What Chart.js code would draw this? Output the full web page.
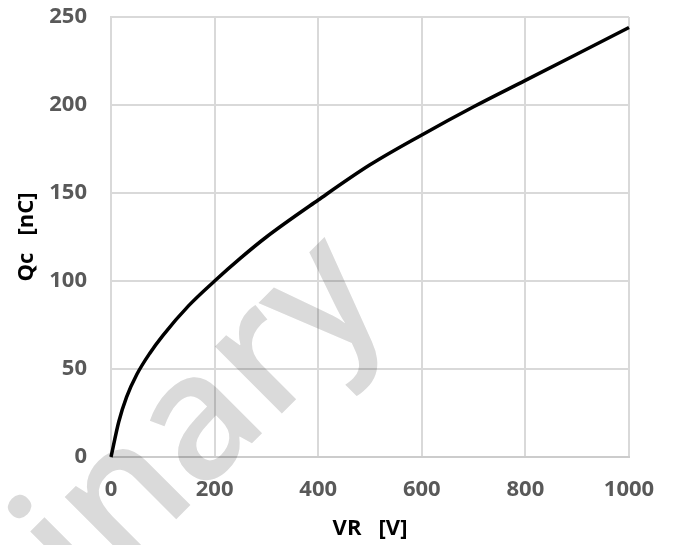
<!DOCTYPE html>
<html>
<head>
<meta charset="utf-8">
<script src="https://cdn.jsdelivr.net/npm/chart.js@4/dist/chart.umd.min.js"></script>
<style>
  html, body { margin: 0; padding: 0; background: #ffffff; }
  #wrap { width: 673px; height: 545px; }
</style>
</head>
<body>
<div id="wrap"><canvas id="chart" width="673" height="545"></canvas></div>
<script>
// Reverse voltage VR [V] and capacitive charge Qc [nC]
const vrVolts = [0, 15, 30, 50, 75, 100, 150, 200, 250, 300, 400, 500, 600, 700, 800, 900, 1000];
const qcNanoC = [0, 20, 34, 47, 59, 69, 86, 100, 113, 125, 146, 166, 183, 199, 214, 229, 244];

// Axis ranges and tick steps
const xRange = [0, 1000];
const xStep = 200;
const yRange = [0, 250];
const yStep = 50;

const xTitle = 'VR   [V]';
const yTitle = 'Qc   [nC]';
const watermarkText = 'Preliminary';

const tickFont = { family: '"Open Sans", "Liberation Sans", sans-serif', size: 22, weight: 'bold' };
const titleFont = { family: '"Open Sans", "Liberation Sans", sans-serif', size: 22, weight: 'bold' };

// Large rotated watermark text, multiplied over the chart
const watermark = {
  id: 'watermark',
  afterDraw(chart) {
    const ctx = chart.ctx;
    const size = 175;
    ctx.save();
    ctx.font = '600 ' + size + 'px "Open Sans", "Liberation Sans", sans-serif';
    ctx.globalCompositeOperation = 'multiply';
    ctx.fillStyle = 'rgb(218,218,218)';
    const pre = ctx.measureText('Prelim').width;
    const iw = ctx.measureText('i').width;
    ctx.translate(20, 507);
    ctx.rotate(-45 * Math.PI / 180);
    ctx.textBaseline = 'alphabetic';
    ctx.fillText(watermarkText, -(pre + iw / 2), 0.68 * size);
    ctx.restore();
  }
};

// Fixed axis sizes so the plot area sits where it should
function fitX(s) { s.height = 88; s.paddingLeft = 0; s.paddingRight = 0; }
function fitY(s) { s.width = 111; s.paddingTop = 0; s.paddingBottom = 0; }

new Chart(document.getElementById('chart'), {
  type: 'scatter',
  data: {
    datasets: [{
      data: vrVolts.map((v, i) => ({ x: v, y: qcNanoC[i] })),
      showLine: true,
      borderColor: '#000000',
      borderWidth: 3.5,
      pointRadius: 0,
      cubicInterpolationMode: 'monotone',
      clip: false
    }]
  },
  options: {
    responsive: false,
    animation: false,
    devicePixelRatio: 1,
    layout: { padding: { left: 0, right: 44, top: 17, bottom: 0 } },
    plugins: {
      legend: { display: false },
      tooltip: { enabled: false }
    },
    scales: {
      x: {
        type: 'linear',
        min: xRange[0],
        max: xRange[1],
        afterFit: fitX,
        ticks: { stepSize: xStep, color: '#595959', font: tickFont, padding: 20, maxRotation: 0, callback: v => String(v) },
        grid: { color: '#d9d9d9', lineWidth: 2, drawTicks: false },
        border: { color: '#cccccc', width: 2 },
        title: { display: true, text: xTitle, color: '#000000', font: titleFont, padding: { top: 0, bottom: 3 } }
      },
      y: {
        type: 'linear',
        min: yRange[0],
        max: yRange[1],
        afterFit: fitY,
        ticks: { stepSize: yStep, color: '#595959', font: tickFont, padding: 24, callback: v => String(v) },
        grid: { color: '#d9d9d9', lineWidth: 2, drawTicks: false },
        border: { color: '#d9d9d9', width: 2 },
        title: { display: true, text: yTitle, color: '#000000', font: titleFont, padding: { top: 14, bottom: 0 } }
      }
    }
  },
  plugins: [watermark]
});
</script>
</body>
</html>
